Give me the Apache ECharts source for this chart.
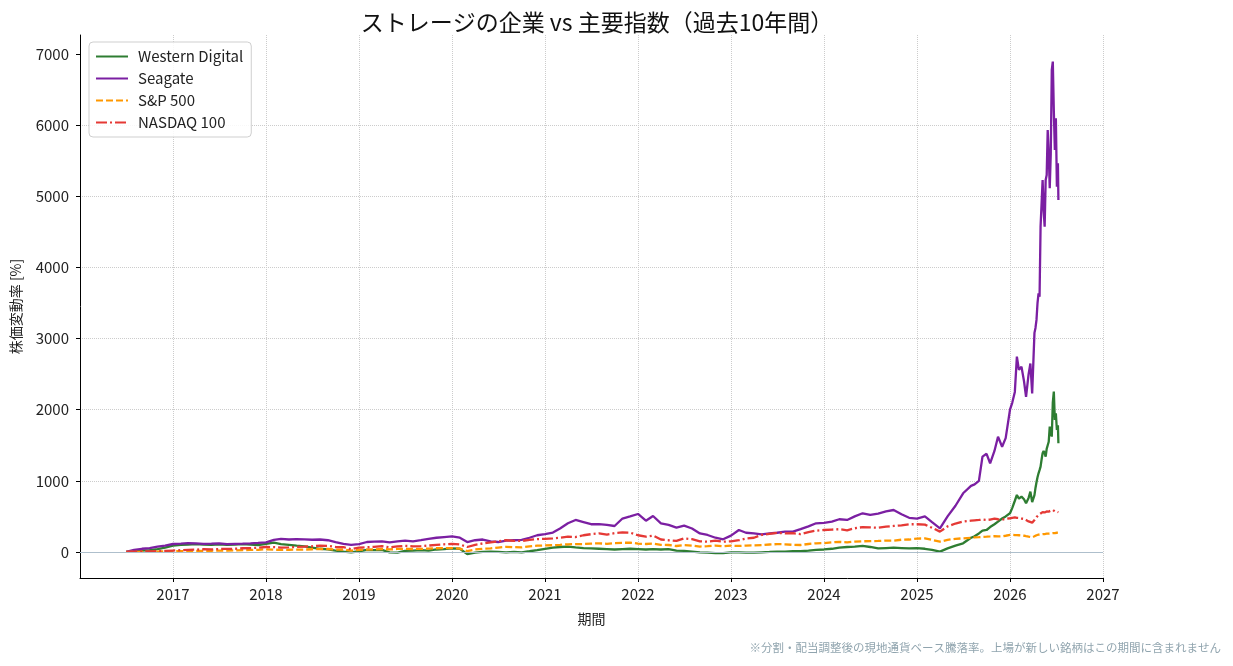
<!DOCTYPE html>
<html>
<head>
<meta charset="utf-8">
<script src="https://cdn.jsdelivr.net/npm/echarts@6/dist/echarts.min.js"></script>
<style>
  html, body { margin: 0; padding: 0; background: #fff; }
  #chart { width: 1233px; height: 666px; }
</style>
</head>
<body>
<div id="chart"></div>
<script>
  // 月次 (2016-07 〜 2025-07)
  const datesMonthly = [
    '2016-07-01','2016-08-01','2016-09-01','2016-10-01','2016-11-01','2016-12-01',
    '2017-01-01','2017-02-01','2017-03-01','2017-04-01','2017-05-01','2017-06-01','2017-07-01','2017-08-01','2017-09-01','2017-10-01','2017-11-01','2017-12-01',
    '2018-01-01','2018-02-01','2018-03-01','2018-04-01','2018-05-01','2018-06-01','2018-07-01','2018-08-01','2018-09-01','2018-10-01','2018-11-01','2018-12-01',
    '2019-01-01','2019-02-01','2019-03-01','2019-04-01','2019-05-01','2019-06-01','2019-07-01','2019-08-01','2019-09-01','2019-10-01','2019-11-01','2019-12-01',
    '2020-01-01','2020-02-01','2020-03-01','2020-04-01','2020-05-01','2020-06-01','2020-07-01','2020-08-01','2020-09-01','2020-10-01','2020-11-01','2020-12-01',
    '2021-01-01','2021-02-01','2021-03-01','2021-04-01','2021-05-01','2021-06-01','2021-07-01','2021-08-01','2021-09-01','2021-10-01','2021-11-01','2021-12-01',
    '2022-01-01','2022-02-01','2022-03-01','2022-04-01','2022-05-01','2022-06-01','2022-07-01','2022-08-01','2022-09-01','2022-10-01','2022-11-01','2022-12-01',
    '2023-01-01','2023-02-01','2023-03-01','2023-04-01','2023-05-01','2023-06-01','2023-07-01','2023-08-01','2023-09-01','2023-10-01','2023-11-01','2023-12-01',
    '2024-01-01','2024-02-01','2024-03-01','2024-04-01','2024-05-01','2024-06-01','2024-07-01','2024-08-01','2024-09-01','2024-10-01','2024-11-01','2024-12-01',
    '2025-01-01','2025-02-01','2025-03-01','2025-04-01','2025-05-01','2025-06-01','2025-07-01'
  ];
  // 直近は細かく
  const datesLate = [
    '2025-08-01','2025-08-15','2025-09-01','2025-09-15','2025-10-01','2025-10-15','2025-11-01','2025-11-15','2025-12-01','2025-12-15',
    '2026-01-01','2026-01-10','2026-01-20','2026-01-28','2026-02-05','2026-02-15','2026-02-25',
    '2026-03-05','2026-03-15','2026-03-22','2026-03-29',
    '2026-04-03','2026-04-07','2026-04-11','2026-04-15','2026-04-19','2026-04-23','2026-04-27',
    '2026-05-01','2026-05-05','2026-05-09','2026-05-13','2026-05-17','2026-05-21','2026-05-25','2026-05-29',
    '2026-06-02','2026-06-06','2026-06-10','2026-06-14','2026-06-18','2026-06-22','2026-06-26','2026-06-30',
    '2026-07-04','2026-07-08','2026-07-10'
  ];

  const wdMonthly = [
    0, 15, 20, 25, 40, 60,
    90, 100, 105, 110, 105, 100, 108, 100, 105, 110, 105, 98,
    115, 130, 110, 100, 90, 80, 60, 45, 35, 20, 5, -5,
    10, 30, 25, 30, -5, -10, 15, 20, 25, 20, 35, 40,
    50, 45, -30, -10, 0, 5, 0, -5, 0, -5, 10, 25,
    45, 60, 70, 75, 65, 55, 50, 45, 40, 35, 40, 45,
    40, 35, 40, 35, 40, 20, 15, 5, -5, -10, -15, -15,
    -5, -5, -10, -10, -5, 0, 5, 5, 10, 10, 20, 30,
    35, 45, 60, 70, 75, 85, 70, 50, 55, 60, 55, 50,
    55, 45, 30, 5, 50, 90, 122
  ];
  const wdLate = [
    200, 220, 260, 300, 309, 350, 390, 427, 470, 500,
    544, 620, 720, 801, 750, 778, 740,
    684, 760, 848, 700,
    684, 800, 900, 980, 1050, 1106, 1150,
    1200, 1300, 1388, 1420, 1388, 1340, 1450, 1500,
    1550, 1762, 1700, 1621, 2100, 2254, 1856, 1950,
    1715, 1780, 1528
  ];

  const stxMonthly = [
    0, 30, 45, 55, 75, 90,
    112, 118, 125, 120, 115, 118, 122, 110, 115, 118, 122, 128,
    135, 170, 185, 175, 180, 178, 172, 175, 165, 140, 115, 100,
    110, 140, 145, 150, 135, 150, 160, 150, 165, 185, 200, 210,
    220, 200, 140, 165, 175, 150, 140, 160, 165, 170, 200, 235,
    250, 272, 330, 403, 450, 420, 390, 390, 380, 365, 470, 500,
    534, 440, 506, 403, 380, 342, 370, 330, 260, 239, 200, 178,
    230, 309, 270, 262, 248, 260, 270, 285, 285, 320, 360, 403,
    410, 427, 460, 450, 500, 544, 520, 540, 570, 590, 530, 480,
    470, 500, 420, 333, 500, 650, 825
  ];
  const stxLate = [
    930, 950, 1000, 1340, 1380, 1247, 1420, 1621, 1480, 1600,
    2000, 2100, 2250, 2746, 2560, 2605, 2400,
    2180, 2500, 2650, 2230,
    2700, 3080, 3150, 3262, 3500, 3637, 3590,
    4574, 4903, 5230, 4800, 4574, 5230, 5300, 5933,
    5600, 5113, 5600, 6777, 6894, 6200, 5652, 6097,
    5136, 5465, 4949
  ];

  const spxMonthly = [
    0, 2, 2, 1, 4, 7,
    9, 13, 12, 14, 16, 17, 19, 19, 22, 25, 28, 30,
    38, 32, 30, 31, 33, 34, 38, 42, 42, 33, 35, 19,
    30, 34, 36, 42, 35, 43, 45, 42, 44, 47, 52, 55,
    55, 48, 12, 35, 45, 50, 62, 72, 68, 65, 80, 88,
    92, 95, 100, 108, 110, 112, 118, 122, 115, 125, 128, 132,
    118, 112, 118, 100, 98, 84, 96, 90, 76, 82, 90, 80,
    88, 85, 90, 92, 95, 105, 110, 108, 100, 98, 112, 122,
    125, 135, 142, 136, 145, 150, 152, 155, 160, 160, 172, 175,
    188, 190, 170, 145, 170, 185, 192
  ];
  const spxLate = [
    200, 205, 208, 212, 215, 218, 222, 218, 220, 228,
    239, 240, 238, 236, 235, 232, 228,
    222, 215, 210, 206,
    212, 220, 228, 235, 240, 243, 246,
    248, 250, 252, 253, 252, 255, 257, 258,
    258, 260, 262, 264, 266, 267, 266, 268,
    270, 271, 272
  ];

  const ndxMonthly = [
    0, 5, 10, 8, 12, 15,
    20, 25, 30, 32, 38, 36, 42, 44, 45, 52, 55, 58,
    70, 68, 62, 64, 72, 75, 80, 88, 86, 70, 68, 40,
    60, 66, 72, 82, 65, 78, 85, 80, 82, 90, 100, 108,
    115, 105, 70, 100, 120, 135, 150, 165, 155, 155, 170, 180,
    185, 190, 200, 215, 210, 235, 250, 262, 245, 265, 275, 272,
    235, 215, 230, 175, 165, 155, 190, 180, 150, 145, 160, 145,
    150, 165, 190, 200, 239, 255, 270, 260, 265, 250, 280, 300,
    309, 315, 320, 305, 333, 350, 345, 340, 355, 366, 375, 389,
    390, 385, 340, 286, 360, 400, 427
  ];
  const ndxLate = [
    440, 445, 450, 455, 450, 455, 470, 460, 455, 465,
    474, 480, 485, 480, 478, 470, 465,
    450, 430, 420, 412,
    430, 450, 470, 490, 510, 520, 530,
    540, 550, 560, 567, 555, 560, 570, 575,
    568, 575, 580, 585, 590, 581, 570, 578,
    565, 570, 558
  ];

  const seriesNames = ['Western Digital', 'Seagate', 'S&P 500', 'NASDAQ 100'];
  const yTicks = [0, 1000, 2000, 3000, 4000, 5000, 6000, 7000];

  const FONT = '"Noto Sans CJK JP", "Noto Sans", sans-serif';

  // 日付 → 小数の年
  function toYear(s) {
    const [y, m, d] = s.split('-').map(Number);
    const start = Date.UTC(y, 0, 1), end = Date.UTC(y + 1, 0, 1);
    return y + (Date.UTC(y, m - 1, d) - start) / (end - start);
  }
  const years = datesMonthly.concat(datesLate).map(toYear);
  const pair = (vals) => years.map((x, i) => [x, vals[i]]);

  const chart = echarts.init(document.getElementById('chart'));
  const option = {
    animation: false,
    backgroundColor: '#fff',
    title: {
      text: 'ストレージの企業 vs 主要指数（過去10年間）',
      left: 592,
      top: 6,
      textAlign: 'center',
      textStyle: { fontFamily: FONT, fontSize: 23, fontWeight: 'normal', color: '#111' }
    },
    legend: {
      data: seriesNames,
      orient: 'vertical',
      left: 89,
      top: 42,
      padding: [7, 8, 7, 6],
      itemGap: 7,
      itemWidth: 32,
      itemHeight: 15,
      itemStyle: { opacity: 0 },
      backgroundColor: 'rgba(255,255,255,0.85)',
      borderColor: '#cfcfcf',
      borderWidth: 1,
      borderRadius: 4,
      textStyle: { fontFamily: FONT, fontSize: 15, color: '#222', padding: [0, 0, 0, 5] }
    },
    grid: { left: 80, right: 130, top: 35, bottom: 88 },
    xAxis: {
      type: 'value',
      min: 2016,
      max: 2027,
      interval: 1,
      name: '期間',
      nameLocation: 'middle',
      nameGap: 34,
      nameTextStyle: { fontFamily: FONT, fontSize: 14, color: '#222' },
      axisLine: { show: true, onZero: false, lineStyle: { color: '#000', width: 1 } },
      axisTick: { show: true, length: 4, lineStyle: { color: '#000' } },
      axisLabel: {
        showMinLabel: false,
        formatter: (v) => String(v),
        fontFamily: FONT, fontSize: 15, color: '#222', margin: 9
      },
      splitLine: { show: true, lineStyle: { type: 'dotted', color: '#cccccc', width: 1 } }
    },
    yAxis: {
      type: 'value',
      min: -366,
      max: 7268,
      name: '株価変動率 [%]',
      nameLocation: 'middle',
      nameGap: 57,
      nameTextStyle: { fontFamily: FONT, fontSize: 14, color: '#222' },
      axisLine: { show: true, onZero: false, lineStyle: { color: '#000', width: 1 } },
      axisTick: { show: true, customValues: yTicks, length: 4, lineStyle: { color: '#000' } },
      axisLabel: {
        customValues: yTicks,
        formatter: (v) => String(v),
        fontFamily: FONT, fontSize: 15, color: '#222', margin: 11
      },
      splitLine: {
        show: true, showMinLine: false, showMaxLine: false,
        lineStyle: { type: 'dotted', color: '#cccccc', width: 1 }
      }
    },
    series: [
      {
        name: seriesNames[0], type: 'line', data: pair(wdMonthly.concat(wdLate)),
        symbol: 'none', color: '#2e7d32', lineStyle: { width: 2.3, color: '#2e7d32' },
        markLine: {
          silent: true, symbol: 'none', label: { show: false },
          lineStyle: { color: '#aebfcc', width: 1.2, type: 'solid' },
          data: [{ yAxis: 0 }]
        }
      },
      {
        name: seriesNames[1], type: 'line', data: pair(stxMonthly.concat(stxLate)),
        symbol: 'none', color: '#7b1fa2', lineStyle: { width: 2.3, color: '#7b1fa2' }
      },
      {
        name: seriesNames[2], type: 'line', data: pair(spxMonthly.concat(spxLate)),
        symbol: 'none', color: '#ff9800', lineStyle: { width: 2.3, color: '#ff9800', type: [7, 3] }
      },
      {
        name: seriesNames[3], type: 'line', data: pair(ndxMonthly.concat(ndxLate)),
        symbol: 'none', color: '#e53935', lineStyle: { width: 2.3, color: '#e53935', type: [11, 3, 2, 3] }
      }
    ],
    graphic: [{
      type: 'text',
      right: 12,
      top: 642,
      style: {
        text: '※分割・配当調整後の現地通貨ベース騰落率。上場が新しい銘柄はこの期間に含まれません',
        font: '11.5px "Noto Sans CJK JP", sans-serif',
        fill: '#90a4ae'
      }
    }]
  };
  chart.setOption(option);
</script>
</body>
</html>
